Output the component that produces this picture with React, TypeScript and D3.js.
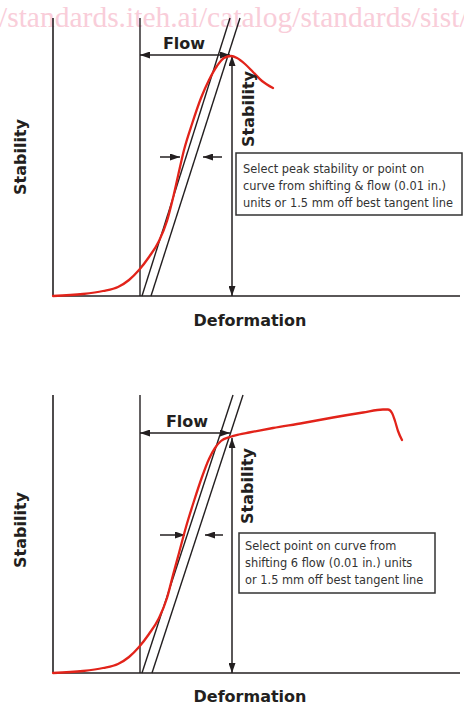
import React from "react";
import * as d3 from "d3";

// ---------- data (deformation units, stability units) ----------
const topCurveX = [0, 3, 5, 6.5, 7.6, 8.6, 9.6, 10.6, 11.4, 12.0, 12.5, 13.1, 13.9, 14.8, 15.6, 16.4, 17.1, 17.8, 18.4, 19.2, 20.0, 20.9, 22.0];
const topCurveY = [0, 0.2, 0.5, 0.9, 1.6, 2.6, 3.9, 5.5, 7.5, 9.8, 12.0, 14.6, 17.2, 19.8, 21.6, 23.0, 23.8, 24.0, 23.8, 23.2, 22.4, 21.5, 20.8];

const bottomCurveX = [0, 3, 5, 6.5, 7.6, 8.6, 9.6, 10.6, 11.4, 12.0, 12.6, 13.3, 14.1, 14.9, 15.6, 16.2, 16.8, 17.7, 18.6, 19.6, 22.0, 25.0, 28.0, 31.0, 33.0, 33.5, 33.9, 34.2, 34.5, 34.9];
const bottomCurveY = [0, 0.2, 0.5, 0.9, 1.6, 2.6, 3.9, 5.5, 7.5, 9.8, 12.0, 14.6, 17.2, 19.6, 21.4, 22.5, 23.2, 23.6, 23.85, 24.05, 24.5, 25.0, 25.55, 26.05, 26.35, 26.35, 26.0, 25.2, 24.2, 23.3];

// tangent lines: [x at bottom, x at top]
const topTangent1 = [8.9, 17.7];
const topTangent2 = [9.8, 18.7];
const bottomTangent1 = [8.9, 18.0];
const bottomTangent2 = [9.9, 19.0];

// annotation values
const topFlow = { y: 24.1, x0: 8.7, x1: 17.7 };
const bottomFlow = { y: 24.0, x0: 8.7, x1: 17.7 };
const topStability = { x: 17.9, y: 24.0 };
const bottomStability = { x: 17.9, y: 23.5 };
const topShift = { y: 13.9, l0: 10.7, l1: 12.7, r0: 16.9, r1: 15.0 };
const bottomShift = { y: 13.8, l0: 10.7, l1: 13.2, r0: 17.0, r1: 15.2 };
const flowRefX = 8.7;
const axisTopY = 27.8;

const topNote = ["Select peak stability or point on", "curve from shifting & flow (0.01 in.)", "units or 1.5 mm off best tangent line"];
const bottomNote = ["Select point on curve from", "shifting 6 flow (0.01 in.) units", "or 1.5 mm off best tangent line"];

const xLabel = "Deformation";
const yLabel = "Stability";
const flowLabel = "Flow";
const watermark = "/standards.iteh.ai/catalog/standards/sist/";

const INK = "#231f20";
const RED = "#e2231a";
const FONT = "'DejaVu Sans', Verdana, sans-serif";

type PanelProps = {
  id: string;
  top: number;
  baseline: number;
  cx: number[];
  cy: number[];
  t1: number[];
  t2: number[];
  flow: { y: number; x0: number; x1: number };
  stab: { x: number; y: number };
  shift: { y: number; l0: number; l1: number; r0: number; r1: number };
  note: string[];
  box: { x: number; y: number; w: number; h: number; tx: number; ty: number };
  flowText: { x: number; y: number };
  stabText: { x: number; y: number };
  yLabelY: number;
  xLabelY: number;
};

function Panel(p: PanelProps) {
  const x = d3.scaleLinear().domain([0, 41]).range([53, 463]);
  const y = d3.scaleLinear().domain([0, 28]).range([p.baseline, p.top]);
  const line = d3
    .line<number>()
    .x((_, i) => x(p.cx[i]))
    .y((_, i) => y(p.cy[i]))
    .curve(d3.curveMonotoneX);
  const m = `url(#arrow)`;
  return (
    <g>
      {/* axes */}
      <line x1={x(0)} y1={y(axisTopY)} x2={x(0)} y2={y(0)} stroke={INK} strokeWidth={1.6} />
      <line x1={x(0)} y1={y(0)} x2={x(40.7)} y2={y(0)} stroke={INK} strokeWidth={1.6} />
      <line x1={x(flowRefX)} y1={y(axisTopY)} x2={x(flowRefX)} y2={y(0)} stroke={INK} strokeWidth={1.4} />
      {/* tangent lines */}
      <line x1={x(p.t1[0])} y1={y(0)} x2={x(p.t1[1])} y2={y(axisTopY)} stroke={INK} strokeWidth={1.4} />
      <line x1={x(p.t2[0])} y1={y(0)} x2={x(p.t2[1])} y2={y(axisTopY)} stroke={INK} strokeWidth={1.4} />
      {/* flow arrow */}
      <line x1={x(p.flow.x0)} y1={y(p.flow.y)} x2={x(p.flow.x1)} y2={y(p.flow.y)} stroke={INK} strokeWidth={1.5} markerStart={m} markerEnd={m} />
      {/* stability arrow */}
      <line x1={x(p.stab.x)} y1={y(p.stab.y)} x2={x(p.stab.x)} y2={y(0)} stroke={INK} strokeWidth={1.5} markerStart={m} markerEnd={m} />
      {/* shift arrows */}
      <line x1={x(p.shift.l0)} y1={y(p.shift.y)} x2={x(p.shift.l1)} y2={y(p.shift.y)} stroke={INK} strokeWidth={1.5} markerEnd={m} />
      <line x1={x(p.shift.r0)} y1={y(p.shift.y)} x2={x(p.shift.r1)} y2={y(p.shift.y)} stroke={INK} strokeWidth={1.5} markerEnd={m} />
      {/* red curve */}
      <path d={line(p.cx) || ""} fill="none" stroke={RED} strokeWidth={2.3} strokeLinejoin="round" strokeLinecap="round" />
      {/* note box */}
      <rect x={p.box.x} y={p.box.y} width={p.box.w} height={p.box.h} fill="#fff" stroke="#333" strokeWidth={1.5} />
      {p.note.map((t, i) => (
        <text key={i} x={p.box.tx} y={p.box.ty + i * 17} fontFamily={FONT} fontSize={11.4} fill="#333">
          {t}
        </text>
      ))}
      {/* labels */}
      <text x={p.flowText.x} y={p.flowText.y} textAnchor="middle" fontFamily={FONT} fontWeight="bold" fontSize={16} fill={INK}>
        {flowLabel}
      </text>
      <text
        transform={`translate(${p.stabText.x},${p.stabText.y}) rotate(-90)`}
        textAnchor="middle"
        dominantBaseline="central"
        fontFamily={FONT}
        fontWeight="bold"
        fontSize={16}
        fill={INK}
      >
        {yLabel}
      </text>
      <text
        transform={`translate(20,${p.yLabelY}) rotate(-90)`}
        textAnchor="middle"
        dominantBaseline="central"
        fontFamily={FONT}
        fontWeight="bold"
        fontSize={16}
        fill={INK}
      >
        {yLabel}
      </text>
      <text x={250} y={p.xLabelY} textAnchor="middle" fontFamily={FONT} fontWeight="bold" fontSize={16} fill={INK}>
        {xLabel}
      </text>
    </g>
  );
}

export default function App() {
  return (
    <svg width={464} height={705} style={{ position: "absolute", left: 0, top: 0, background: "#fff" }}>
      <defs>
        <marker id="arrow" viewBox="0 0 10 10" refX={10} refY={5} markerUnits="userSpaceOnUse" markerWidth={10} markerHeight={7} orient="auto-start-reverse" preserveAspectRatio="none">
          <path d="M0,0 L10,5 L0,10 z" fill={INK} />
        </marker>
      </defs>
      <rect width={464} height={705} fill="#fff" />
      <text x={-1} y={27} fontFamily="'Liberation Serif', serif" fontSize={29.5} fill="#f9cdd9">
        {watermark}
      </text>
      <Panel
        id="top"
        top={16}
        baseline={296}
        cx={topCurveX}
        cy={topCurveY}
        t1={topTangent1}
        t2={topTangent2}
        flow={topFlow}
        stab={topStability}
        shift={topShift}
        note={topNote}
        box={{ x: 236, y: 153, w: 226, h: 62, tx: 243, ty: 173 }}
        flowText={{ x: 184, y: 49 }}
        stabText={{ x: 248, y: 109 }}
        yLabelY={157}
        xLabelY={326}
      />
      <Panel
        id="bottom"
        top={393}
        baseline={673}
        cx={bottomCurveX}
        cy={bottomCurveY}
        t1={bottomTangent1}
        t2={bottomTangent2}
        flow={bottomFlow}
        stab={bottomStability}
        shift={bottomShift}
        note={bottomNote}
        box={{ x: 239, y: 533, w: 196, h: 60, tx: 245, ty: 550 }}
        flowText={{ x: 187, y: 427 }}
        stabText={{ x: 247.5, y: 486 }}
        yLabelY={530}
        xLabelY={702}
      />
    </svg>
  );
}
